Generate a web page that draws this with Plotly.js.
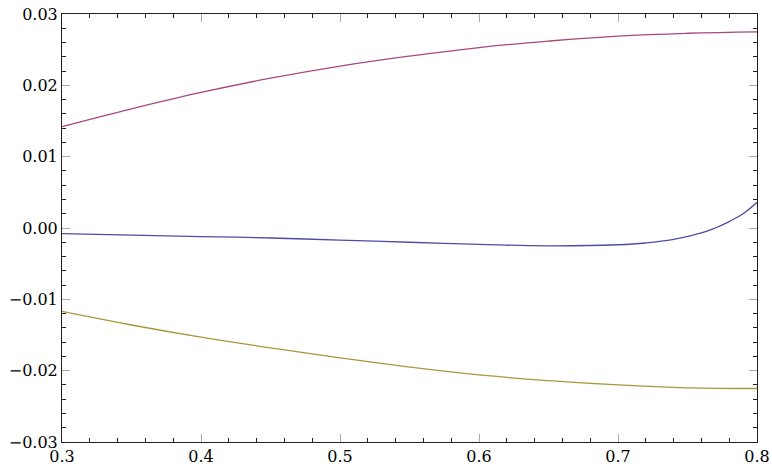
<!DOCTYPE html>
<html>
<head>
<meta charset="UTF-8">
<script src="https://cdn.plot.ly/plotly-3.0.1.min.js"></script>
<style>
  body { margin: 0; background: #fff; }
  #plot { width: 772px; height: 476px; }
</style>
</head>
<body>
<div id="plot"></div>
<script>
// values
const xs = [0.30, 0.35, 0.40, 0.45, 0.50, 0.55, 0.60, 0.65, 0.70, 0.75, 0.80];
const upper = [0.0142, 0.0167, 0.0190, 0.0210, 0.0227, 0.0241, 0.0253, 0.0262, 0.0269, 0.0273, 0.0275];
const lower = [-0.0117, -0.0136, -0.0153, -0.0168, -0.0182, -0.0195, -0.0206, -0.0214, -0.0220, -0.0224, -0.0225];

const xsMid = [0.30, 0.35, 0.40, 0.45, 0.50, 0.55, 0.60, 0.65, 0.70, 0.72, 0.74, 0.76, 0.77, 0.78, 0.79, 0.80];
const middle = [-0.0008, -0.0010, -0.0012, -0.0014, -0.0017, -0.0020, -0.0023, -0.0025, -0.00235, -0.0021, -0.0016, -0.0007, 0.0000, 0.0009, 0.0020, 0.0036];

// serif face for tick labels
const serif = 'DejaVu Serif';

function line(x, y, color) {
  return {
    type: 'scatter', mode: 'lines', x: x, y: y,
    line: { color: color, width: 1.3, shape: 'spline', smoothing: 1.2, simplify: false },
    hoverinfo: 'skip'
  };
}

const data = [
  line(xsMid, middle, '#4d4da6'),
  line(xs, upper, '#a8487e'),
  line(xs, lower, '#a8983c')
];

const axisBase = {
  showgrid: false, zeroline: false,
  showline: true, linecolor: '#222', linewidth: 1, mirror: 'ticks',
  ticks: 'inside', ticklen: 8, tickcolor: '#aaa', tickwidth: 1,
  tickfont: { family: serif, size: 16, color: '#000' }
};

const layout = {
  width: 772, height: 476,
  margin: { l: 62, r: 15, t: 14, b: 34 },
  font: { family: serif },
  paper_bgcolor: '#fff', plot_bgcolor: '#fff',
  showlegend: false,
  xaxis: Object.assign({}, axisBase, {
    range: [0.3, 0.8], dtick: 0.1, tick0: 0.3, tickformat: '.1f',
    minor: { ticks: 'inside', ticklen: 4, tickcolor: '#222', dtick: 0.02, tick0: 0.3 }
  }),
  yaxis: Object.assign({}, axisBase, {
    range: [-0.03, 0.03], dtick: 0.01, tick0: 0, tickformat: '.2f',
    minor: { ticks: 'inside', ticklen: 4, tickcolor: '#222', dtick: 0.002, tick0: 0 }
  })
};

Plotly.newPlot('plot', data, layout, { displayModeBar: false, staticPlot: true });
</script>
</body>
</html>
